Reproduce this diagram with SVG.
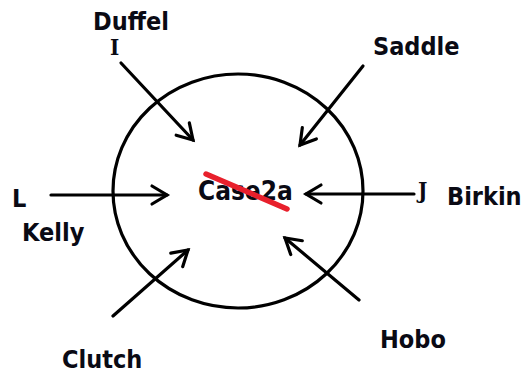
<svg xmlns="http://www.w3.org/2000/svg" width="522" height="373" viewBox="0 0 522 373">
<style>
.lbl{font-family:"DejaVu Sans Condensed","DejaVu Sans",sans-serif;font-weight:bold;font-size:25px;fill:#0a0a14}
.ser{font-family:"DejaVu Serif Condensed","DejaVu Serif",serif;font-weight:bold;font-size:22px;fill:#0a0a14}
.edge{stroke:#000;stroke-width:3.2;fill:none;stroke-linecap:round;marker-end:url(#arr)}
</style>
<defs>
<marker id="arr" markerUnits="userSpaceOnUse" viewBox="-20 -12 24 24" refX="0" refY="0" markerWidth="24" markerHeight="24" orient="auto">
<path d="M-15,-9 L0,0 L-15,9" fill="none" stroke="#000" stroke-width="3.2" stroke-linecap="round" stroke-linejoin="miter"/>
</marker>
</defs>
<rect width="522" height="373" fill="#fff"/>
<g id="circle">
<ellipse cx="238" cy="191" rx="125" ry="117" fill="none" stroke="#000" stroke-width="3.2"/>
</g>
<g id="connectors">
<line class="edge" x1="121" y1="63" x2="193" y2="140"/>
<line class="edge" x1="363" y1="66" x2="300" y2="145"/>
<line class="edge" x1="51" y1="195" x2="167" y2="195"/>
<line class="edge" x1="414" y1="194" x2="306" y2="194"/>
<line class="edge" x1="359" y1="300" x2="285" y2="238"/>
<line class="edge" x1="113" y1="316" x2="188" y2="250"/>
</g>
<g id="center">
<text class="lbl" x="198" y="200" style="font-size:26px">Case2a</text>
<line x1="206" y1="174" x2="287" y2="209" stroke="#e8202c" stroke-width="5.5" stroke-linecap="round"/>
</g>
<g id="duffel"><text class="lbl" x="93" y="30">Duffel</text><text class="ser" x="110" y="55">I</text></g>
<g id="saddle"><text class="lbl" x="373" y="55">Saddle</text></g>
<g id="kelly"><text class="lbl" x="12" y="207">L</text><text class="lbl" x="22" y="241">Kelly</text></g>
<g id="birkin"><text class="ser" x="418" y="198">J</text><text class="lbl" x="447" y="205">Birkin</text></g>
<g id="hobo"><text class="lbl" x="380" y="348">Hobo</text></g>
<g id="clutch"><text class="lbl" x="62" y="368">Clutch</text></g>
</svg>
